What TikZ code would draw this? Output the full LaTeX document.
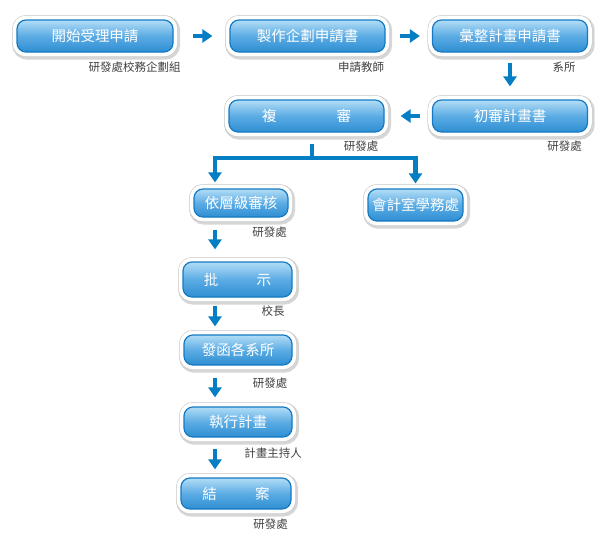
\documentclass[tikz,border=0pt]{standalone}
\usepackage{fontspec}
\setmainfont{Noto Sans CJK TC}
\usetikzlibrary{arrows.meta}

\definecolor{boxtop}{RGB}{178,221,246}
\definecolor{boxmid}{RGB}{92,172,228}
\definecolor{boxbot}{RGB}{46,142,210}
\definecolor{boxedge}{RGB}{20,122,196}
\definecolor{flowblue}{RGB}{6,126,196}

\begin{document}
\begin{tikzpicture}[x=1pt, y=-1pt,
    stage/.style={rounded corners=9pt, draw=boxedge, line width=1.2pt,
        top color=boxtop, bottom color=boxbot, middle color=boxmid,
        text=white, font=\fontsize{14.5}{16}\selectfont, inner sep=0pt,
        minimum height=32pt,
        preaction={draw=black!16, line width=12pt,
            transform canvas={shift={(1.2pt,-1.6pt)}}},
        preaction={draw=black!22, double=white, double distance=8.6pt, line width=0.6pt}},
    note/.style={font=\fontsize{11.5}{13}\selectfont, text=black!75, inner sep=0pt},
    flow/.style={draw=flowblue, line width=4.5pt, -{Triangle[length=10pt,width=13pt]}}]

    \useasboundingbox (0,0) rectangle (600,541);

    % first row
    \node[stage, minimum width=156pt] (start) at (95,36) {開始受理申請};
    \node[stage, minimum width=155pt] (draft) at (307.5,36) {製作企劃申請書};
    \node[stage, minimum width=155pt] (collect) at (510,36) {彙整計畫申請書};

    % second row
    \node[stage, minimum width=155pt] (first) at (510,116) {初審計畫書};
    \node[stage, minimum width=155pt] (second) at (306.5,116) {複\hspace{60pt}審};

    % branches
    \node[stage, minimum width=94pt, minimum height=28pt] (level) at (241,203) {依層級審核};
    \node[stage, minimum width=95pt, minimum height=32pt] (account) at (415.5,205) {會計室學務處};

    % column
    \node[stage, minimum width=109pt, minimum height=35pt] (approve) at (237.5,279.5) {批\hspace{38.5pt}示};
    \node[stage, minimum width=108pt, minimum height=30pt] (notify) at (238,350) {發函各系所};
    \node[stage, minimum width=108pt, minimum height=30pt] (execute) at (238,422) {執行計畫};
    \node[stage, minimum width=110pt, minimum height=31pt] (close) at (236,493.5) {結\hspace{38.5pt}案};

    % who does it
    \node[note] (n1) at (134.5,67) {研發處校務企劃組};
    \node[note] (n2) at (361,67) {申請教師};
    \node[note] (n3) at (564,67) {系所};
    \node[note] (n4) at (564.5,146) {研發處};
    \node[note] (n5) at (361,146) {研發處};
    \node[note] (n6) at (269.5,232) {研發處};
    \node[note] (n7) at (273,311) {校長};
    \node[note] (n8) at (270,383) {研發處};
    \node[note] (n9) at (273,453) {計畫主持人};
    \node[note] (n10) at (270.5,524) {研發處};

    \coordinate (split) at (312,158);
    \coordinate (col) at (215,0);

    \draw[flow, shorten <=19pt, shorten >=17pt] (start) -- (draft);
    \draw[flow, shorten <=14pt, shorten >=12pt] (draft) -- (collect);
    \draw[flow, shorten <=10pt, shorten >=13pt] (collect) -- (first);
    \draw[flow, shorten <=12pt, shorten >=16pt] (first) -- (second);

    \draw[flow, -, shorten <=11.5pt] (split |- second.south) -- (split);
    \draw[flow] (split) -| ([yshift=6pt]level.north -| col);
    \draw[flow] (split) -| ([yshift=5pt]account.north);

    \draw[flow, shorten <=12pt, shorten >=12pt] (level.south -| col) -- (approve.north -| col);
    \draw[flow, shorten <=8pt, shorten >=8pt] (approve.south -| col) -- (notify.north -| col);
    \draw[flow, shorten <=12pt, shorten >=9pt] (notify.south -| col) -- (execute.north -| col);
    \draw[flow, shorten <=11pt, shorten >=8pt] (execute.south -| col) -- (close.north -| col);

\end{tikzpicture}
\end{document}
